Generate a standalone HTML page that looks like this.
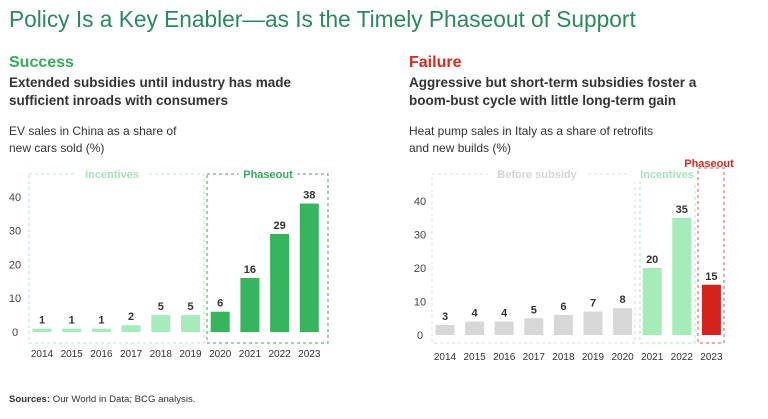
<!DOCTYPE html>
<html><head><meta charset="utf-8"><style>
body{margin:0;width:768px;height:419px;background:#fff;font-family:"Liberation Sans",sans-serif;overflow:hidden;position:relative}
.t{position:absolute;white-space:nowrap}
</style></head><body>
<div class="t" style="left:9px;top:6px;font-size:22.7px;color:#2a8a5c">Policy Is a Key Enabler—as Is the Timely Phaseout of Support</div>
<div class="t" style="left:9px;top:54px;font-size:16px;font-weight:bold;color:#3aaa5c">Success</div>
<div class="t" style="left:9px;top:74px;font-size:13.5px;font-weight:bold;color:#333;line-height:18px">Extended subsidies until industry has made<br>sufficient inroads with consumers</div>
<div class="t" style="left:9px;top:123px;font-size:12px;color:#333;line-height:17px">EV sales in China as a share of<br>new cars sold (%)</div>
<div class="t" style="left:409px;top:54px;font-size:16px;font-weight:bold;color:#d42a20">Failure</div>
<div class="t" style="left:409px;top:74px;font-size:13.5px;font-weight:bold;color:#333;line-height:18px">Aggressive but short-term subsidies foster a<br>boom-bust cycle with little long-term gain</div>
<div class="t" style="left:409px;top:123px;font-size:12px;color:#333;line-height:17px">Heat pump sales in Italy as a share of retrofits<br>and new builds (%)</div>
<div class="t" style="left:9px;top:394px;font-size:9.6px;color:#333"><b>Sources:</b> Our World in Data; BCG analysis.</div>
<svg id="c" width="768" height="419" style="position:absolute;left:0;top:0"></svg>
<script>
const years=["2014","2015","2016","2017","2018","2019","2020","2021","2022","2023"];
const chinaVals=[1,1,1,2,5,5,6,16,29,38];
const chinaPhase=["i","i","i","i","i","i","p","p","p","p"];
const italyVals=[3,4,4,5,6,7,8,20,35,15];
const italyPhase=["b","b","b","b","b","b","b","i","i","p"];
const yTicks=[0,10,20,30,40];
const svg=document.getElementById('c');
const NS='http://www.w3.org/2000/svg';
function mk(t,a,txt){const e=document.createElementNS(NS,t);for(const k in a)e.setAttribute(k,a[k]);if(txt!==undefined)e.textContent=txt;svg.appendChild(e);return e;}
function chart(name,x0,dx,y0,unit,vals,phases,colors,tickX){
  const y=v=>y0-v*unit, x=i=>x0+i*dx;
  yTicks.forEach(t=>{const e=mk('text',{x:tickX,y:y(t)+4,'font-size':11,fill:'#444','text-anchor':'middle'},t);
  
  });
  vals.forEach((v,i)=>{
    const r=mk('rect',{x:x(i)-9.5,y:y(v),width:19,height:v*unit,fill:colors[phases[i]]});
    
    
    const l=mk('text',{x:x(i),y:y(v)-5,'font-size':11,'font-weight':'bold',fill:'#333','text-anchor':'middle'},v);
    
    
    const xl=mk('text',{x:x(i),y:y0+25,'font-size':10,fill:'#333','text-anchor':'middle'},years[i]);
    
    
  });
}
function box(name,x1,y1,x2,y2,col,label,lx,ly,lcol){
  const r=mk('rect',{x:x1,y:y1,width:x2-x1,height:y2-y1,fill:'none',stroke:col,'stroke-dasharray':'3,3','stroke-width':1});
  
  
  const w=label.length*6.6;
  mk('rect',{x:lx-w/2-3,y:ly-10,width:w+6,height:14,fill:'#fff'});
  const t=mk('text',{x:lx,y:ly,'font-size':11,'font-weight':'bold',fill:lcol,'text-anchor':'middle'},label);
  
  
}
box('china-incentives',29,174,204,343,'#b5e8c4','Incentives',112,178,'#a6e3b6');
box('china-phaseout',207,174,328,343,'#3aaa5c','Phaseout',268,178,'#3aaa5c');
chart('china',42,29.7,332,3.38,chinaVals,chinaPhase,{i:'#a6ecbb',p:'#37b45e'},15);
box('italy-before',432,174,635,343,'#ddd','Before subsidy',537,178,'#d5d5d5');
box('italy-incentives',640,174,695,343,'#a6ecbb','Incentives',667,178,'#a6e3b6');
const pr=mk('rect',{x:698,y:168,width:26,height:175,fill:'none',stroke:'#e05050','stroke-dasharray':'3,3'});


const pl=mk('text',{x:709,y:167,'font-size':11,'font-weight':'bold',fill:'#d42a20','text-anchor':'middle'},'Phaseout');


chart('italy',445,29.6,335,3.35,italyVals,italyPhase,{b:'#d7d7d7',i:'#a6ecbb',p:'#d4231c'},420);
</script>
</body></html>
